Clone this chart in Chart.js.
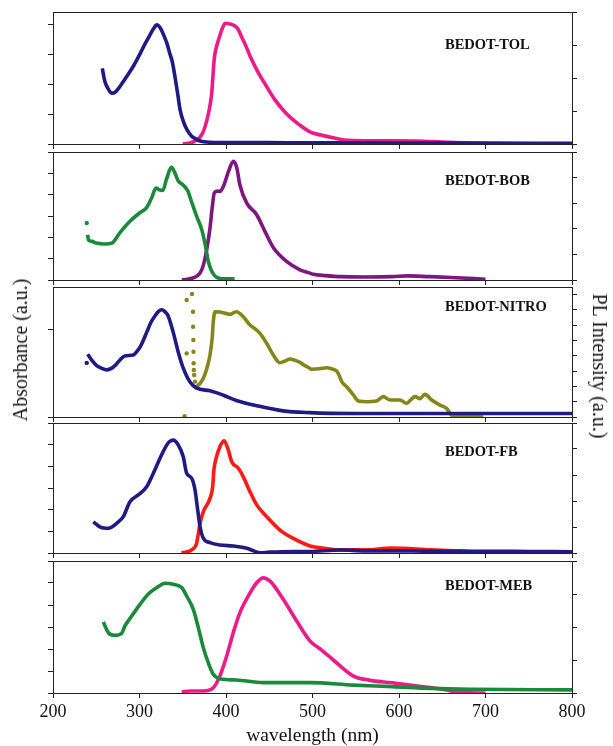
<!DOCTYPE html>
<html><head><meta charset="utf-8">
<script src="https://cdn.jsdelivr.net/npm/chart.js@4.4.1/dist/chart.umd.min.js"></script>
<style>
html,body{margin:0;padding:0;background:#fff;}
#wrap{position:relative;width:613px;height:746px;overflow:hidden;font-family:"Liberation Serif","Times New Roman",serif;}
canvas{position:absolute;left:0;}
.lbl{position:absolute;left:445px;font-weight:bold;font-size:14.5px;line-height:14px;color:#111;white-space:nowrap;}
.ytitle{position:absolute;font-size:20px;line-height:20px;white-space:nowrap;color:#111;}
</style></head><body>
<div id="wrap">
<canvas id="c1"></canvas><canvas id="c2"></canvas><canvas id="c3"></canvas><canvas id="c4"></canvas><canvas id="c5"></canvas>
<div class="lbl" style="top:37px">BEDOT-TOL</div>
<div class="lbl" style="top:173px">BEDOT-BOB</div>
<div class="lbl" style="top:299px">BEDOT-NITRO</div>
<div class="lbl" style="top:444px">BEDOT-FB</div>
<div class="lbl" style="top:578px">BEDOT-MEB</div>
<div class="ytitle" style="left:20px;top:350px;transform:translate(-50%,-50%) rotate(-90deg)">Absorbance (a.u.)</div>
<div class="ytitle" style="left:600px;top:366px;transform:translate(-50%,-50%) rotate(90deg)">PL Intensity (a.u.)</div>
</div>
<script>
// ---- data (wavelength nm, intensity in each axis' units) ----
const xTicks = [200, 300, 400, 500, 600, 700, 800];

const tolAbsX = [257,260,264,268,272,277,285,293,300,307,312,316,320,324,328,332,335,338,341,344,347,351,355,360,365,370,380,400,450,500,600,700,800];
const tolAbsY = [2.52,2.08,1.83,1.69,1.73,1.9,2.24,2.6,2.97,3.37,3.63,3.83,3.97,3.87,3.63,3.33,3.02,2.73,2.24,1.7,1.13,0.73,0.47,0.27,0.17,0.1,0.06,0.05,0.045,0.04,0.035,0.03,0.02];
const tolPlX = [350,356,362,366,370,374,378,381,383.5,385,386.5,389,392,395,399,404,410,414,418,423,428,437,447,456,466,475,485,497,510,525,537,560,592,620,650,680,700];
const tolPlY = [0,0.02,0.06,0.12,0.21,0.39,0.73,1.09,1.54,2.09,2.6,2.95,3.21,3.45,3.66,3.64,3.58,3.48,3.25,2.97,2.65,2.18,1.74,1.36,1.03,0.79,0.58,0.37,0.27,0.18,0.12,0.1,0.1,0.09,0.06,0.03,0.01];

const bobAbsDotX = [239];
const bobAbsDotY = [2.67];
const bobAbsX = [240,241,245,250,256,260,268,277,289,300,308,314,319,323,327,331,337,341,345,350,356,360,366,372,376,379.5,383.5,389,397,410];
const bobAbsY = [2.12,1.88,1.81,1.73,1.7,1.69,1.73,2.2,2.75,3.14,3.38,3.84,4.31,4.23,4.2,4.7,5.28,5.01,4.63,4.47,4.16,3.69,2.99,2.36,1.66,0.88,0.41,0.13,0.06,0.05];
const bobPlX = [349,362,370,374,378,381.5,384,386.5,390,393,397,403,408.5,412.5,416,424,435.5,445,455,470,485.5,497,501,515,533,560,592,610,635,660,700];
const bobPlY = [0,0.08,0.27,0.6,1.25,2.03,2.81,3.4,3.47,3.46,3.66,4.25,4.64,4.38,3.72,3.0,2.55,1.9,1.25,0.73,0.4,0.27,0.22,0.17,0.13,0.12,0.13,0.16,0.13,0.1,0.03];

const nitroAbsDotX = [239];
const nitroAbsDotY = [0.62];
const nitroAbsX = [240,245,250.5,256,262,268,273.6,278,283,292.8,296,300.6,308.3,313,318,322,325.6,329,333,339,344.9,350.6,358.4,366,381.5,397,412,435.5,466,497,550,650,800];
const nitroAbsY = [0.72,0.65,0.59,0.56,0.54,0.56,0.61,0.66,0.70,0.71,0.74,0.80,0.97,1.08,1.16,1.21,1.23,1.21,1.16,0.97,0.74,0.56,0.40,0.33,0.30,0.25,0.19,0.13,0.07,0.05,0.04,0.04,0.04];
const nitroPlDotX = [352,354.5,354.5,360.7,361.8,362,362.2,362.4,362.6,362.8,363.2,364.2];
const nitroPlDotY = [0.05,4.16,7.65,8.04,6.88,5.9,5.03,4.27,3.51,3.07,2.75,2.31];
const nitroPlX = [366,370,373.8,378,381.5,384,385.3,387.3,393,398,404.6,412,420,427.7,433,439.3,447,454.7,462.4,468,474,480,485.5,490,495,499,508,516.4,522,528,531,533.8,539.5,547.2,553,562.6,574,581.8,589.6,601,608.7,618.5,624.3,630,637.8,647.4,655,662.8,680,697.5];
const nitroPlY = [1.98,2.2,2.53,3.2,4.05,5.14,6.23,6.88,6.86,6.8,6.71,6.88,6.55,6.01,5.8,5.47,4.82,4.05,3.55,3.65,3.79,3.7,3.57,3.4,3.25,3.12,3.15,3.22,3.15,3.0,2.7,2.31,1.98,1.44,1.05,1.0,1.05,1.33,1.11,1.11,0.9,1.33,1.2,1.48,1.11,0.78,0.57,0.02,0.02,0.0];

const fbAbsX = [246.6,250,254.3,259,264,268,273.6,281.3,289,298.6,308.3,316,323.7,331.4,335,339,344.9,350.6,354.5,360.3,364.2,367.3,370,373.8,381.5,393,408.5,424,432,439.3,450,466,497,533,560,592,640,700,750,800];
const fbAbsY = [1.44,1.33,1.21,1.15,1.14,1.2,1.37,1.68,2.37,2.68,3.06,3.68,4.37,4.98,5.15,5.21,4.98,4.44,3.68,3.45,2.91,1.98,1.21,0.68,0.48,0.37,0.32,0.22,0.1,0.01,0.04,0.06,0.07,0.14,0.1,0.1,0.08,0.08,0.07,0.06];
const fbPlX = [348.7,360.3,366,370,373.8,381.5,384.6,386,389,393,397.7,402.7,406.6,414.3,420,427.7,435.5,447,462.4,477.8,497,501,533,560,592,637,670,700];
const fbPlY = [0,0.12,0.37,1.14,1.59,2.1,2.55,3.19,3.7,4.09,4.32,3.96,3.51,3.26,2.93,2.36,1.85,1.4,0.88,0.56,0.27,0.24,0.12,0.12,0.19,0.12,0.08,0.0];

const mebAbsX = [258.2,264,271.7,279.4,283.2,291,300.6,310,320,329.5,339,348.8,354.5,362.2,368,373.8,379.5,385.3,393,412.4,443,497,547,592,637,683,800];
const mebAbsY = [3.23,2.74,2.62,2.71,3.05,3.5,4.03,4.49,4.79,4.99,4.94,4.79,4.41,3.8,2.97,2.06,1.38,0.85,0.65,0.59,0.47,0.47,0.36,0.29,0.21,0.17,0.14];
const mebPlX = [348.8,358.4,373.8,385.3,393,400.8,408.4,416,425.8,435.5,443,450.9,466.2,481.7,497,510.5,524,546.8,564.9,592,628,655.5,669,700];
const mebPlY = [0.03,0.06,0.06,0.16,0.52,1.12,1.83,2.43,2.94,3.34,3.49,3.39,2.84,2.18,1.58,1.3,1.0,0.52,0.39,0.31,0.19,0.09,0.01,0.0];

// ---- styling / layout ----
const FONT = "'Liberation Serif','Times New Roman',serif";
const C = { navy:'#1f1a84', pink:'#ee1a8a', green:'#1a8a3a', purple:'#7f167f', olive:'#85861a', red:'#ff1a14' };
const pts = (xs, ys) => xs.map((x, i) => ({x, y: ys[i]}));
const line = (xs, ys, color, axis) => ({ data: pts(xs, ys), borderColor: color, backgroundColor: color, yAxisID: axis, borderWidth: 3.6, pointRadius: 0, fill: false });
const dots = (xs, ys, color, axis) => ({ data: pts(xs, ys), borderColor: color, backgroundColor: color, yAxisID: axis, showLine: false, pointRadius: 2.2, pointBorderWidth: 0, pointBackgroundColor: color });

const framePlugin = {
  id: 'frame',
  beforeDatasetsDraw(chart) {
    const {ctx, chartArea: a} = chart;
    ctx.save();
    ctx.strokeStyle = '#222';
    ctx.lineWidth = 1;
    ctx.strokeRect(Math.round(a.left) + 0.5, Math.round(a.top) + 0.5, Math.round(a.right - a.left), Math.round(a.bottom - a.top));
    ctx.restore();
  }
};

function makePanel(id, top, plotH, isBottom, leftMax, rightMax, datasets) {
  const cv = document.getElementById(id);
  const padTop = 4;
  const xH = isBottom ? 53 : 6;
  cv.width = 613; cv.height = plotH + padTop + xH;
  cv.style.top = (top - padTop) + 'px';
  const grid = { drawOnChartArea: false, drawTicks: true, tickLength: 5, color: '#222', lineWidth: 1 };
  new Chart(cv, {
    type: 'line',
    data: { datasets },
    options: {
      responsive: false, animation: false, devicePixelRatio: 1,
      layout: { padding: { left: 47, right: 35, top: padTop, bottom: 0 } },
      plugins: { legend: { display: false }, tooltip: { enabled: false } },
      elements: { line: { cubicInterpolationMode: 'monotone' } },
      scales: {
        x: {
          type: 'linear', position: 'bottom', min: xTicks[0], max: xTicks[xTicks.length - 1],
          afterBuildTicks: s => { s.ticks = xTicks.map(v => ({value: v})); },
          ticks: { display: isBottom, color: '#111', font: { family: FONT, size: 18 }, padding: 3, maxRotation: 0, autoSkip: false },
          grid, border: { display: false },
          title: { display: isBottom, text: 'wavelength (nm)', color: '#111', font: { family: FONT, size: 19.5, lineHeight: 1 }, padding: 0 },
          afterFit: s => { s.height = xH; }
        },
        yL: {
          type: 'linear', position: 'left', min: 0, max: leftMax,
          ticks: { stepSize: 1, display: false, includeBounds: false },
          grid, border: { display: false },
          afterFit: s => { s.width = 6; }
        },
        yR: {
          type: 'linear', position: 'right', min: 0, max: rightMax,
          ticks: { stepSize: 1, display: false, includeBounds: false },
          grid, border: { display: false },
          afterFit: s => { s.width = 6; }
        }
      }
    },
    plugins: [framePlugin]
  });
}

makePanel('c1', 12, 132, false, 4.4, 4, [
  line(tolAbsX, tolAbsY, C.navy, 'yL'),
  line(tolPlX, tolPlY, C.pink, 'yR')
]);
makePanel('c2', 152, 128, false, 6, 5, [
  dots(bobAbsDotX, bobAbsDotY, C.green, 'yL'),
  line(bobAbsX, bobAbsY, C.green, 'yL'),
  line(bobPlX, bobPlY, C.purple, 'yR')
]);
makePanel('c3', 287, 130, false, 1.49, 8.5, [
  dots(nitroAbsDotX, nitroAbsDotY, C.navy, 'yL'),
  line(nitroAbsX, nitroAbsY, C.navy, 'yL'),
  dots(nitroPlDotX, nitroPlDotY, C.olive, 'yR'),
  line(nitroPlX, nitroPlY, C.olive, 'yR')
]);
makePanel('c4', 423, 130, false, 6, 5, [
  line(fbAbsX, fbAbsY, C.navy, 'yL'),
  line(fbPlX, fbPlY, C.red, 'yR')
]);
makePanel('c5', 561, 132, true, 6, 4, [
  line(mebAbsX, mebAbsY, C.green, 'yL'),
  line(mebPlX, mebPlY, C.pink, 'yR')
]);
</script>
</body></html>
